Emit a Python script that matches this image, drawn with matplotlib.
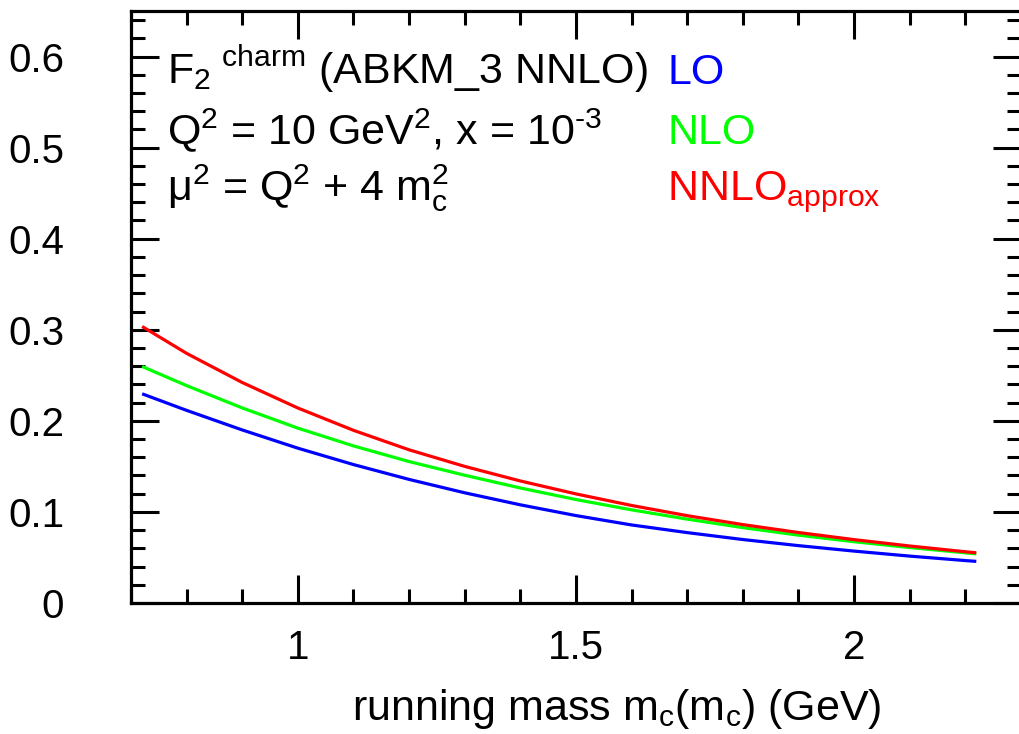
import matplotlib
matplotlib.use("Agg")
import matplotlib.pyplot as plt
from matplotlib.ticker import MultipleLocator

plt.rcParams['font.family'] = ['Liberation Sans', 'DejaVu Sans']
plt.rcParams['mathtext.fontset'] = 'custom'
plt.rcParams['mathtext.rm'] = 'Liberation Sans'
plt.rcParams['mathtext.it'] = 'Liberation Sans'
plt.rcParams['mathtext.bf'] = 'Liberation Sans:bold'
plt.rcParams['mathtext.sf'] = 'Liberation Sans'
plt.rcParams['mathtext.default'] = 'rm'

# data
mc = [0.72, 0.80, 0.90, 1.00, 1.10, 1.20, 1.30, 1.40, 1.50, 1.60, 1.70, 1.80, 1.90, 2.00, 2.10, 2.20, 2.22]
f2_lo = [0.2297, 0.2115, 0.1900, 0.1700, 0.1520, 0.1357, 0.1210, 0.1078, 0.0960, 0.0857, 0.0773, 0.0697, 0.0630, 0.0570, 0.0515, 0.0466, 0.0457]
f2_nlo = [0.2597, 0.2387, 0.2142, 0.1920, 0.1725, 0.1553, 0.1403, 0.1263, 0.1136, 0.1023, 0.0921, 0.0828, 0.0745, 0.0673, 0.0609, 0.0551, 0.0540]
f2_nnlo = [0.3036, 0.2741, 0.2421, 0.2141, 0.1896, 0.1682, 0.1500, 0.1340, 0.1198, 0.1071, 0.0959, 0.0861, 0.0774, 0.0696, 0.0626, 0.0563, 0.0551]

labels = ['LO', 'NLO', r'NNLO$_{\mathrm{approx}}$']
colors = ['#0000ff', '#00ff00', '#ff0000']

W, H = 1019, 734
fig = plt.figure(figsize=(W / 100, H / 100), dpi=100)
left, right, bottom, top = 131, 1020.8, 603, 11
ax = fig.add_axes([left / W, 1 - bottom / H, (right - left) / W, (bottom - top) / H])

for y, c in zip([f2_lo, f2_nlo, f2_nnlo], colors):
    ax.plot(mc, y, color=c, lw=2.3, solid_joinstyle='round', solid_capstyle='butt')

ax.set_xlim(0.7, 2.3)
ax.set_ylim(0, 0.65)
ax.set_xticks([1.0, 1.5, 2.0])
ax.set_xticklabels(['1', '1.5', '2'])
ax.xaxis.set_minor_locator(MultipleLocator(0.1))
ax.set_yticks([0, 0.1, 0.2, 0.3, 0.4, 0.5, 0.6])
ax.set_yticklabels(['0', '0.1', '0.2', '0.3', '0.4', '0.5', '0.6'])
ax.yaxis.set_minor_locator(MultipleLocator(0.02))

ax.tick_params(which='both', direction='in', top=True, right=True, width=2.2, labelsize=29)
ax.tick_params(which='major', length=20)
ax.tick_params(which='minor', length=10)
ax.tick_params(axis='x', which='major', pad=19)
ax.tick_params(axis='y', which='major', pad=48)
for s in ax.spines.values():
    s.set_linewidth(2.3)

fs = 31
tx = 0.765
ax.text(tx, 0.570, r'F$_{2}$$\;{}^{\mathrm{charm}}$ (ABKM_3 NNLO)', fontsize=fs, va='baseline', ha='left')
ax.text(tx, 0.504, r'Q$^{2}$ = 10 GeV$^{2}$, x = 10$^{\text{-3}}$', fontsize=fs, va='baseline', ha='left')
ax.text(tx, 0.442, r'μ$^{2}$ = Q$^{2}$ + 4 m$_{c}^{2}$', fontsize=fs, va='baseline', ha='left')

lx = 1.664
for yy, lab, c in zip([0.570, 0.504, 0.442], labels, colors):
    ax.text(lx, yy, lab, fontsize=fs, va='baseline', ha='left', color=c)

fig.text(617 / W, 1 - 720 / H, r'running mass m$_{c}$(m$_{c}$) (GeV)', fontsize=fs,
         ha='center', va='baseline')

fig.savefig('out.png', dpi=100)
